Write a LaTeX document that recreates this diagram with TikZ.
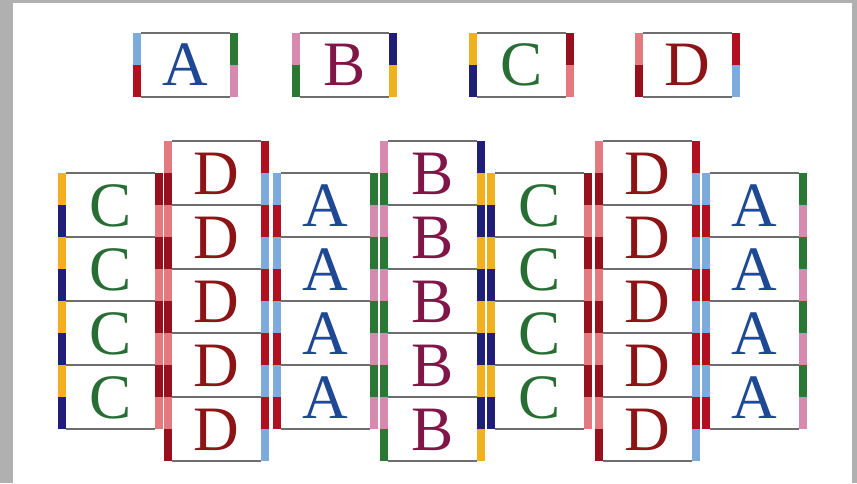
\documentclass[tikz,border=0pt]{standalone}
\usepackage{fontspec}
\setmainfont{Liberation Serif}
\usetikzlibrary{positioning}

\definecolor{framegray}{RGB}{176,176,176}
\definecolor{rimgray}{RGB}{110,110,110}
\definecolor{tlblue}{RGB}{125,172,220}
\definecolor{tred}{RGB}{178,16,32}
\definecolor{tgreen}{RGB}{42,120,52}
\definecolor{tpink}{RGB}{214,138,176}
\definecolor{tnavy}{RGB}{32,30,118}
\definecolor{torange}{RGB}{240,176,32}
\definecolor{tdkred}{RGB}{150,16,30}
\definecolor{tsalmon}{RGB}{226,122,128}

% edge colours of each tile: left top/bottom, right top/bottom
\colorlet{A-lt}{tlblue}  \colorlet{A-lb}{tred}
\colorlet{A-rt}{tgreen}  \colorlet{A-rb}{tpink}
\colorlet{B-lt}{tpink}   \colorlet{B-lb}{tgreen}
\colorlet{B-rt}{tnavy}   \colorlet{B-rb}{torange}
\colorlet{C-lt}{torange} \colorlet{C-lb}{tnavy}
\colorlet{C-rt}{tdkred}  \colorlet{C-rb}{tsalmon}
\colorlet{D-lt}{tsalmon} \colorlet{D-lb}{tdkred}
\colorlet{D-rt}{tred}    \colorlet{D-rb}{tlblue}
\definecolor{A-txt}{RGB}{30,72,150}
\definecolor{B-txt}{RGB}{128,22,72}
\definecolor{C-txt}{RGB}{40,110,52}
\definecolor{D-txt}{RGB}{140,20,22}

% #1 x, #2 y (top), #3 letter, #4 node name
\newcommand{\tilebox}[4]{%
  \fill[white] (#1,#2) rectangle ++(105,64);
  \draw[rim] (#1+8,#2) -- ++(89,0) (#1+8,#2+64) -- ++(89,0);
  \fill[#3-lt] (#1,#2) rectangle ++(8,32);
  \fill[#3-lb] (#1,#2+32) rectangle ++(8,32);
  \fill[#3-rt] (#1+97,#2) rectangle ++(8,32);
  \fill[#3-rb] (#1+97,#2+32) rectangle ++(8,32);
  \node[letter, text=#3-txt] (#4) at (#1+52.5,#2+53) {#3};
}

\begin{document}
\begin{tikzpicture}[x=0.02cm, y=-0.02cm,
    rim/.style={draw=rimgray, line width=0.04cm},
    letter/.style={font=\fontsize{36}{36}\selectfont, inner sep=0pt, anchor=base}]

\fill[framegray] (0,0) rectangle (857,483);
\fill[white] (13,3) rectangle (852,483);

% the four tiles
\foreach \ltr/\x in {A/133, B/292, C/469, D/635}{
  \tilebox{\x}{33}{\ltr}{key-\ltr}
}

% the columns
\foreach \x/\n/\ltr/\y [count=\c] in {58/4/C/173, 164/5/D/141, 273/4/A/173,
    380/5/B/141, 487/4/C/173, 595/5/D/141, 702/4/A/173}{
  \foreach \r in {1,...,\n}{
    \pgfmathtruncatemacro{\ty}{\y+64*(\r-1)}
    \tilebox{\x}{\ty}{\ltr}{col\c-\r}
  }
}
\end{tikzpicture}
\end{document}
